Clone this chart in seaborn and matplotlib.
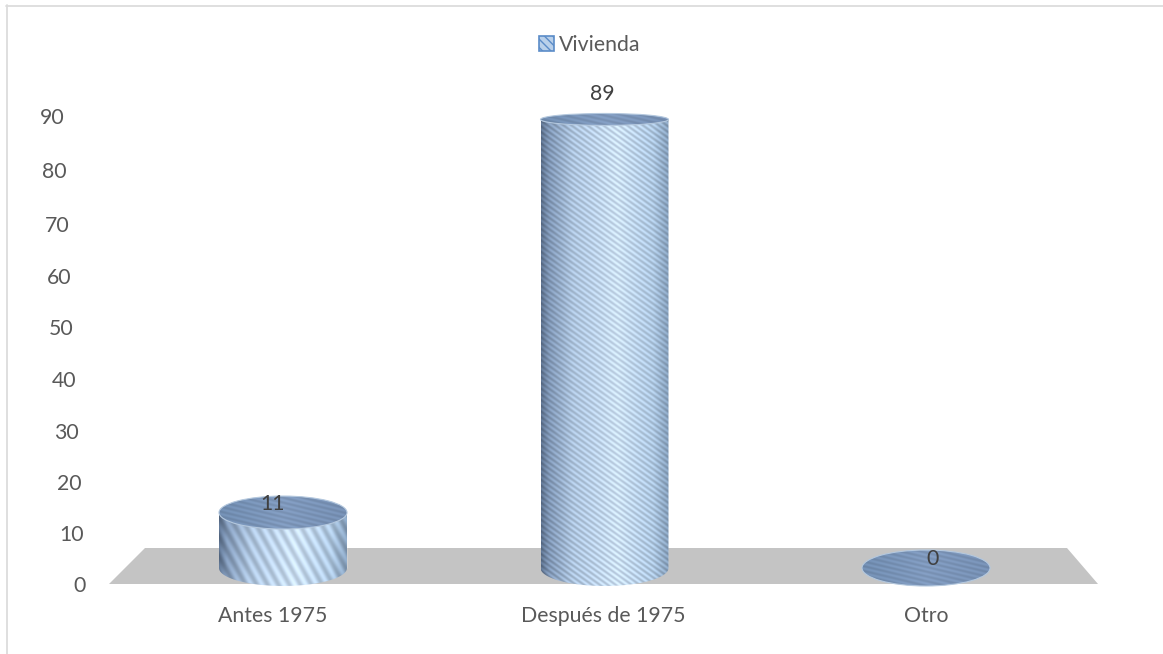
import numpy as np
import pandas as pd
import matplotlib
matplotlib.use("Agg")
import matplotlib.pyplot as plt
from matplotlib.patches import Ellipse, Polygon, Rectangle
from matplotlib.lines import Line2D
from matplotlib.transforms import ScaledTranslation
import seaborn as sns

categories = ["Antes 1975", "Después de 1975", "Otro"]
values = [11, 89, 0]
series_name = "Vivienda"
y_ticks = [0, 10, 20, 30, 40, 50, 60, 70, 80, 90]

W, H = 1163, 654
sns.set_theme(style="white")
plt.rcParams["font.family"] = ["Lato", "DejaVu Sans"]
plt.rcParams["hatch.linewidth"] = 1.0
TXT = "#595959"
FS = 15.3

fig = plt.figure(figsize=(W / 100, H / 100), dpi=100, facecolor="white")

def fx(p): return p / W
def fy(p): return 1 - p / H

# frame: only top and left edges are visible
for xs, ys in [((6, 1163), (5.5, 5.5)), ((6.5, 6.5), (5, 654))]:
    fig.add_artist(Line2D([fx(a) for a in xs], [fy(b) for b in ys], color="#dcdcdc", lw=1.3))

# axis geometry in pixels
X_L, X_R = 109, 1098
C0, STEP = 283, 321.5
xlim = ((X_L - C0) / STEP, (X_R - C0) / STEP)
Y0, Y90 = 584, 116
rect = [fx(X_L), fy(Y0), (X_R - X_L) / W, (Y0 - Y90) / H]

ax = fig.add_axes(rect, facecolor="none")
ax.set_xlim(*xlim)
ax.set_ylim(0, 90)
for s in ax.spines.values():
    s.set_visible(False)
ax.set_yticks(y_ticks)
ax.set_xticks(range(len(categories)))
ax.set_xticklabels(categories)
ax.tick_params(axis="y", length=0, pad=17.3, labelsize=FS, labelcolor=TXT)
ax.tick_params(axis="x", length=0, pad=15.5, labelsize=FS, labelcolor=TXT)
for lab, dx in zip(ax.get_xticklabels(), [-10, -1, 0]):
    lab.set_transform(lab.get_transform() + ScaledTranslation(dx / 100, 0, fig.dpi_scale_trans))
# the value axis leans with the 3D view
lean_down = [0, 1, 2, 3, 3, 3, 4, 4, 2, 0]
for lab, t, dy in zip(ax.get_yticklabels(), y_ticks, lean_down):
    lab.set_transform(lab.get_transform() + ScaledTranslation((1 - 0.24 * t) / 100, -dy / 100, fig.dpi_scale_trans))

# floor
px_per = (Y0 - Y90) / 90
back = (Y0 - 548) / px_per
to_x = lambda p: (p - C0) / STEP
ax.add_patch(Polygon([(to_x(109), 0), (to_x(1098), 0), (to_x(1067), back), (to_x(145), back)],
                     closed=True, facecolor="#c4c4c4", edgecolor="none", zorder=1))

# cylinders
BASE = 568
SC = 5.04
TOP_PX, BOT_PX = 60, 600
W_D = 128.0 / STEP
bax = fig.add_axes([fx(X_L), fy(BOT_PX), (X_R - X_L) / W, (BOT_PX - TOP_PX) / H], facecolor="none")
df = pd.DataFrame({"cat": categories, "val": values})
sns.barplot(data=df, x="cat", y="val", ax=bax, width=W_D * 0.98, color="#9db8d8", saturation=1, zorder=2)
ylim_b = (-(BOT_PX - BASE) / SC, (BASE - TOP_PX) / SC)
bax.axis("off")
bax.patch.set_visible(False)

stripe_style = {0: (11.0, 0.55), 1: (8.0, 1.4), 2: (8.0, 1.4)}

def half_h(v):
    return 18 - 0.135 * v

def texture(nx, ny, period=8.0, lean=1.4, body=True):
    xx, yy = np.meshgrid(np.arange(nx), np.arange(ny))
    u = xx / max(nx - 1, 1)
    if body:
        stops_u = [0, .06, .25, .60, .88, 1]
        stops_c = np.array([[.36, .44, .55], [.50, .59, .71], [.68, .77, .87],
                            [.80, .88, .96], [.68, .78, .88], [.52, .62, .73]])
        st = 0.5 + 0.5 * np.sin(2 * np.pi * (xx - lean * yy) / period)
        amp = 0.22
    else:
        stops_u = [0, .5, 1]
        stops_c = np.array([[.44, .55, .69], [.50, .60, .74], [.46, .56, .70]])
        st = 0.5 + 0.5 * np.sin(2 * np.pi * (xx * 0.25 - yy) / 5.0)
        amp = 0.12
    img = np.stack([np.interp(u, stops_u, stops_c[:, i]) for i in range(3)], axis=-1)
    return np.clip(img * (1 - amp / 2 + amp * st[..., None]), 0, 1)

for i, v in enumerate(values):
    hh = half_h(v) / SC
    h0 = half_h(0) / SC
    if v > 0:
        th = np.linspace(np.pi, 2 * np.pi, 60)
        arc = np.column_stack([i + W_D / 2 * np.cos(th), h0 * np.sin(th)])
        verts = np.vstack([[[i - W_D / 2, v]], arc, [[i + W_D / 2, v]], [[i - W_D / 2, v]]])
        clip = Polygon(verts, closed=True, transform=bax.transData, facecolor="none", edgecolor="none")
        bax.add_patch(clip)
        ny = int((v + h0) * SC) + 2
        period, lean = stripe_style[i]
        im = bax.imshow(texture(129, ny, period, lean), extent=(i - W_D / 2, i + W_D / 2, -h0, v),
                        aspect="auto", interpolation="bilinear", zorder=3)
        im.set_clip_path(clip)
    el = Ellipse((i, v), W_D, 2 * hh, facecolor="none", edgecolor="#b4c8de", lw=0.8, zorder=5)
    bax.add_patch(el)
    im2 = bax.imshow(texture(129, int(2 * hh * SC) + 2, body=False),
                     extent=(i - W_D / 2, i + W_D / 2, v - hh, v + hh),
                     aspect="auto", interpolation="bilinear", zorder=4)
    im2.set_clip_path(el)

bax.set_xlim(*xlim)
bax.set_ylim(*ylim_b)

# data labels
for i, (v, off) in enumerate(zip(values, [(-10, 9), (-2, 25), (7, 9)])):
    bax.annotate(str(v), (i, v), xytext=off, textcoords="offset pixels",
                 ha="center", va="center", fontsize=FS, color="#404040", zorder=8)

# legend
handle = Rectangle((0, 0), 1, 1, facecolor="#b9d0ea", edgecolor="#5b8cc8", lw=1.2, hatch="\\\\\\\\")
fig.legend([handle], [series_name], loc="center", bbox_to_anchor=(fx(590), fy(45)),
           frameon=False, fontsize=FS, labelcolor=TXT, handlelength=0.68, handleheight=0.68,
           handletextpad=0.25, borderpad=0)

fig.savefig("out.png", dpi=100, facecolor="white")
